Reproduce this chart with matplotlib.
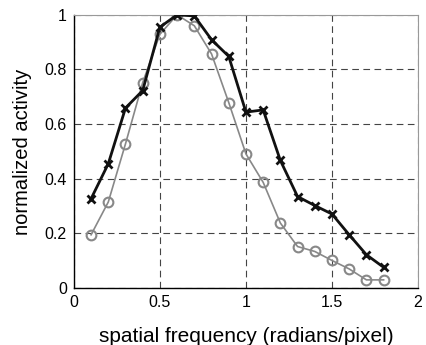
import matplotlib
matplotlib.use("Agg")
import matplotlib.pyplot as plt

plt.rcParams['font.family'] = ['Liberation Sans', 'DejaVu Sans']

freq = [0.1, 0.2, 0.3, 0.4, 0.5, 0.6, 0.7, 0.8, 0.9, 1.0, 1.1, 1.2, 1.3, 1.4, 1.5, 1.6, 1.7, 1.8]
black_vals = [0.327, 0.455, 0.659, 0.723, 0.955, 1.0, 0.996, 0.909, 0.848, 0.644, 0.652, 0.467,
              0.335, 0.302, 0.271, 0.195, 0.122, 0.076]
gray_vals = [0.195, 0.315, 0.528, 0.752, 0.929, 1.0, 0.96, 0.857, 0.679, 0.491, 0.387, 0.238,
             0.152, 0.134, 0.101, 0.07, 0.03, 0.03]
xticks = [0, 0.5, 1, 1.5, 2]
xticklabels = ['0', '0.5', '1', '1.5', '2']
yticks = [0, 0.2, 0.4, 0.6, 0.8, 1]
yticklabels = ['0', '0.2', '0.4', '0.6', '0.8', '1']

fig = plt.figure(figsize=(4.27, 3.45), dpi=100)
ax = fig.add_axes([0.173, 0.165, 0.806, 0.792])

ax.plot(freq, gray_vals, color='#888888', lw=1.2, marker='o', ms=7, mfc='none',
        mec='#888888', mew=1.5, zorder=3)
ax.plot(freq, black_vals, color='#111111', lw=2.0, marker='x', ms=6, mew=2.0, zorder=4)

ax.set_xlim(0, 2)
ax.set_ylim(0, 1)
ax.set_xticks(xticks)
ax.set_xticklabels(xticklabels)
ax.set_yticks(yticks)
ax.set_yticklabels(yticklabels)
ax.grid(True, color='#444444', linestyle=(0, (6, 4)), linewidth=0.8)
ax.tick_params(direction='in', length=0, labelsize=11.5, pad=5)
for s in ['top', 'right']:
    ax.spines[s].set_color('#999999')
    ax.spines[s].set_linewidth(0.8)
for s in ['left', 'bottom']:
    ax.spines[s].set_color('black')
    ax.spines[s].set_linewidth(1.0)

ax.set_xlabel('spatial frequency (radians/pixel)', fontsize=15, labelpad=12)
ax.set_ylabel('normalized activity', fontsize=14.5, labelpad=9)

fig.savefig('out.png', dpi=100)
